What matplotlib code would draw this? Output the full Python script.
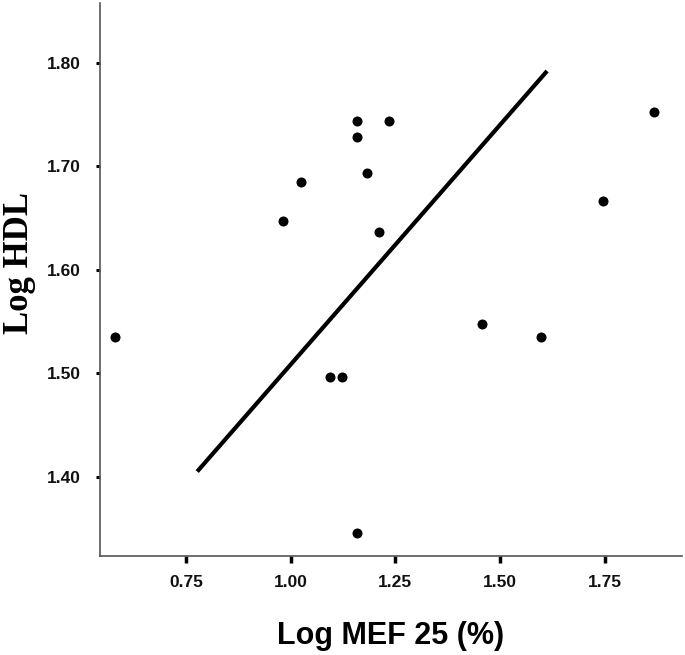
import matplotlib
matplotlib.use("Agg")
import matplotlib.pyplot as plt

# Data
log_mef25 = [0.581, 0.982, 1.024, 1.158, 1.158, 1.235, 1.182, 1.212,
             1.095, 1.122, 1.158, 1.456, 1.597, 1.746, 1.867]
log_hdl = [1.535, 1.647, 1.685, 1.744, 1.728, 1.744, 1.693, 1.636,
           1.496, 1.496, 1.346, 1.548, 1.535, 1.666, 1.752]
fit_x = [0.777, 1.612]
fit_y = [1.405, 1.792]
x_ticks = [0.75, 1.00, 1.25, 1.50, 1.75]
y_ticks = [1.40, 1.50, 1.60, 1.70, 1.80]

fig = plt.figure(figsize=(6.85, 6.55), dpi=100)
ax = fig.add_axes([100/685, 99/655, 582/685, 553/655])

ax.plot(fit_x, fit_y, color="black", lw=3.0, solid_capstyle="butt", zorder=2)
ax.scatter(log_mef25, log_hdl, s=52, color="black", zorder=3, linewidths=0)

ax.set_xlim(0.545, 1.934)
ax.set_ylim(1.3234, 1.8577)

for s in ["top", "right"]:
    ax.spines[s].set_visible(False)
for s in ["left", "bottom"]:
    ax.spines[s].set_color("#555555")
    ax.spines[s].set_linewidth(1.2)

ax.set_xticks(x_ticks)
ax.set_xticklabels([f"{v:.2f}" for v in x_ticks])
ax.set_yticks(y_ticks)
ax.set_yticklabels([f"{v:.2f}" for v in y_ticks])

ax.tick_params(axis="x", direction="out", length=5, width=2.5, color="black", pad=9)
ax.tick_params(axis="y", direction="out", length=3, width=2.2, color="black", pad=11)
for lab in ax.get_xticklabels() + ax.get_yticklabels():
    lab.set_fontfamily("Liberation Sans")
    lab.set_fontweight("bold")
    lab.set_fontsize(12.5)
    lab.set_color("#111111")

ax.set_xlabel("Log MEF 25 (%)", fontfamily="Liberation Sans", fontweight="bold",
              fontsize=22, labelpad=22)
fig.text(20/685, 1 - 263/655, "Log HDL", rotation=90, ha="center", va="center",
         fontfamily="Liberation Serif", fontweight="bold", fontsize=25)

fig.savefig("out.png", dpi=100)
